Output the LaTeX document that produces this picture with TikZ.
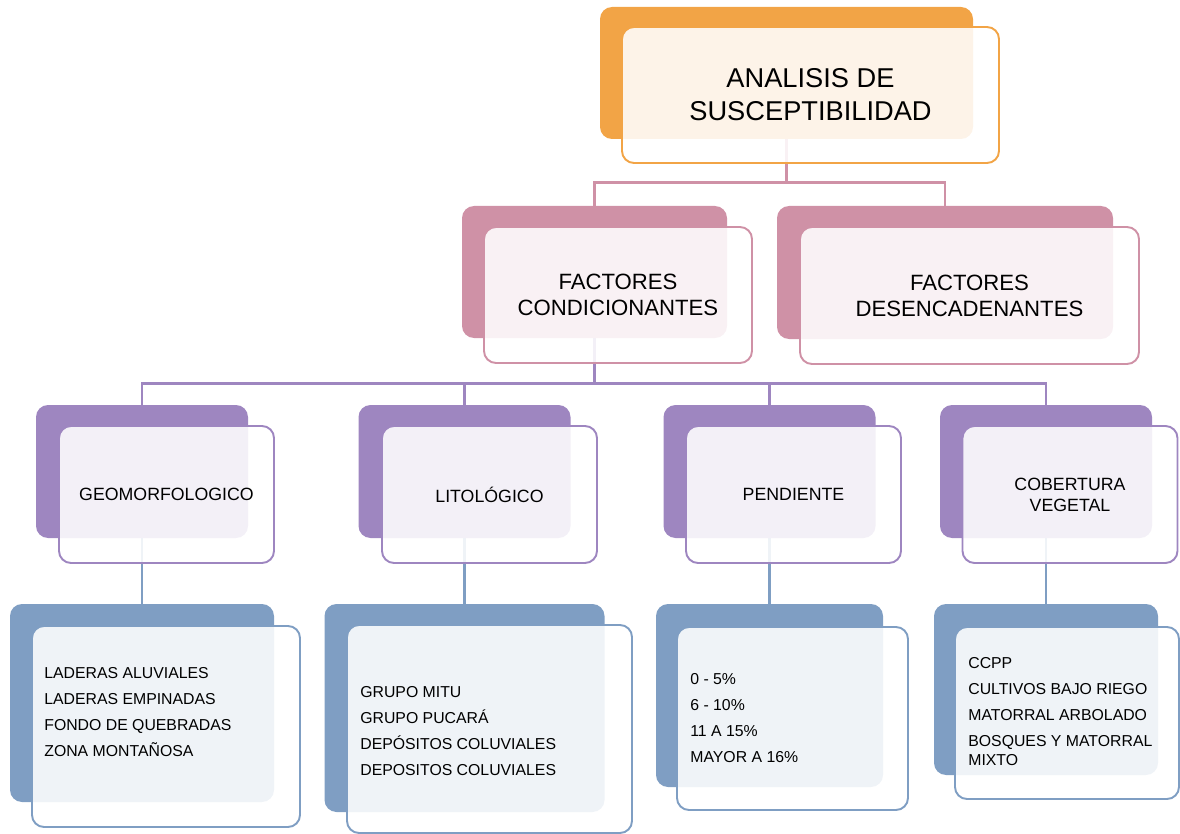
\documentclass[tikz,border=0pt]{standalone}
\usepackage{fontspec}
\setmainfont{Liberation Sans}
\usetikzlibrary{positioning,backgrounds}
\definecolor{orangeback}{HTML}{F2A446}
\definecolor{pinkback}{HTML}{CF91A6}
\definecolor{purpleback}{HTML}{9E86C0}
\definecolor{blueback}{HTML}{7F9EC3}

\begin{document}
\begin{tikzpicture}[
  x=0.2mm, y=-0.2mm,
  dims/.style 2 args={minimum width=#1*0.2mm, minimum height=#2*0.2mm},
  backbox/.style={fill=#1, rounded corners=2.4mm, inner sep=0pt},
  frontbox/.style={draw=#1, fill=white, fill opacity=0.88, text opacity=1,
                   line width=1.1pt, rounded corners=2.4mm, inner sep=0pt,
                   align=center},
  link/.style={draw=#1, line width=1.4pt},
  titletext/.style={font=\fontsize{15.5}{18.7}\selectfont},
  factortext/.style={font=\fontsize{12.6}{14.8}\selectfont},
  topictext/.style={font=\fontsize{10.1}{11.9}\selectfont},
  itemlist/.style={anchor=west, align=left, inner sep=0pt,
                   font=\fontsize{9}{10.8}\selectfont}
]
\useasboundingbox (0,0) rectangle (1180,834);

\node[backbox=orangeback, dims={373}{132}] (ab) at (786.5,73) {};
\node[frontbox=orangeback, dims={377}{136}, titletext] (af)
    at ([shift={(24,22)}]ab.center) {ANALISIS DE\\SUSCEPTIBILIDAD};

\node[backbox=pinkback, dims={265}{132}] (cb) at (594.5,272) {};
\node[frontbox=pinkback, dims={268}{136}, factortext] (cf)
    at ([shift={(23.5,23)}]cb.center) {FACTORES\\CONDICIONANTES};
\node[backbox=pinkback, dims={336}{133}] (db) at (945,272.5) {};
\node[frontbox=pinkback, dims={339}{137}, factortext] (df)
    at ([shift={(24.5,23)}]db.center) {FACTORES\\DESENCADENANTES};

\node[backbox=purpleback, dims={212}{133}] (gb) at (142,471.5) {};
\node[frontbox=purpleback, dims={215}{137}, topictext] (gf)
    at ([shift={(24.5,23)}]gb.center) {GEOMORFOLOGICO};
\node[backbox=purpleback, dims={212}{133}] (lb) at (464.5,471.5) {};
\node[frontbox=purpleback, dims={215}{137}, topictext] (lf)
    at ([shift={(25,23)}]lb.center) {LITOLÓGICO};
\node[backbox=purpleback, dims={212}{133}] (pb) at (769.5,471.5) {};
\node[frontbox=purpleback, dims={215}{137}, topictext] (pf)
    at ([shift={(24,23)}]pb.center) {PENDIENTE};
\node[backbox=purpleback, dims={212}{133}] (vb) at (1046,471.5) {};
\node[frontbox=purpleback, dims={215}{137}, topictext] (vf)
    at ([shift={(24,23)}]vb.center) {COBERTURA\\VEGETAL};

\node[backbox=blueback, dims={264}{198}] (gib) at (142,703) {};
\node[frontbox=blueback, dims={268}{201}] (gif)
    at ([shift={(24,23.5)}]gib.center) {};
\node[backbox=blueback, dims={280}{208}] (lib) at (464.5,708) {};
\node[frontbox=blueback, dims={285}{208}] (lif)
    at ([shift={(25,21)}]lib.center) {};
\node[backbox=blueback, dims={227}{183}] (pib) at (769.5,695.5) {};
\node[frontbox=blueback, dims={231}{183}] (pif)
    at ([shift={(23,23)}]pib.center) {};
\node[backbox=blueback, dims={224}{171}] (vib) at (1046,689.5) {};
\node[frontbox=blueback, dims={224}{172}] (vif)
    at ([shift={(21,23.5)}]vib.center) {};

\node[itemlist] (gil) at (44,712)
    {LADERAS ALUVIALES\\[4pt]LADERAS EMPINADAS\\[4pt]FONDO DE QUEBRADAS\\[4pt]ZONA MONTAÑOSA};
\node[itemlist] (lil) at (360,731)
    {GRUPO MITU\\[4pt]GRUPO PUCARÁ\\[4pt]DEPÓSITOS COLUVIALES\\[4pt]DEPOSITOS COLUVIALES};
\node[itemlist] (pil) at (690,718)
    {0 - 5\%\\[4pt]6 - 10\%\\[4pt]11 A 15\%\\[4pt]MAYOR A 16\%};
\node[itemlist] (vil) at (968,712)
    {CCPP\\[4pt]CULTIVOS BAJO RIEGO\\[4pt]MATORRAL ARBOLADO\\[4pt]BOSQUES Y MATORRAL\\MIXTO};

\begin{scope}[on background layer]
\draw[link=pinkback] (ab.south) -- ++(0,43) -| (cb.north);
\draw[link=pinkback] (ab.south) -- ++(0,43) -| (db.north);
\draw[link=purpleback] (cb.south) -- ++(0,45) -| (gb.north);
\draw[link=purpleback] (cb.south) -- ++(0,45) -| (lb.north);
\draw[link=purpleback] (cb.south) -- ++(0,45) -| (pb.north);
\draw[link=purpleback] (cb.south) -- ++(0,45) -| (vb.north);
\draw[link=blueback] (gb) -- (gib);
\draw[link=blueback] (lb) -- (lib);
\draw[link=blueback] (pb) -- (pib);
\draw[link=blueback] (vb) -- (vib);
\end{scope}
\end{tikzpicture}
\end{document}
